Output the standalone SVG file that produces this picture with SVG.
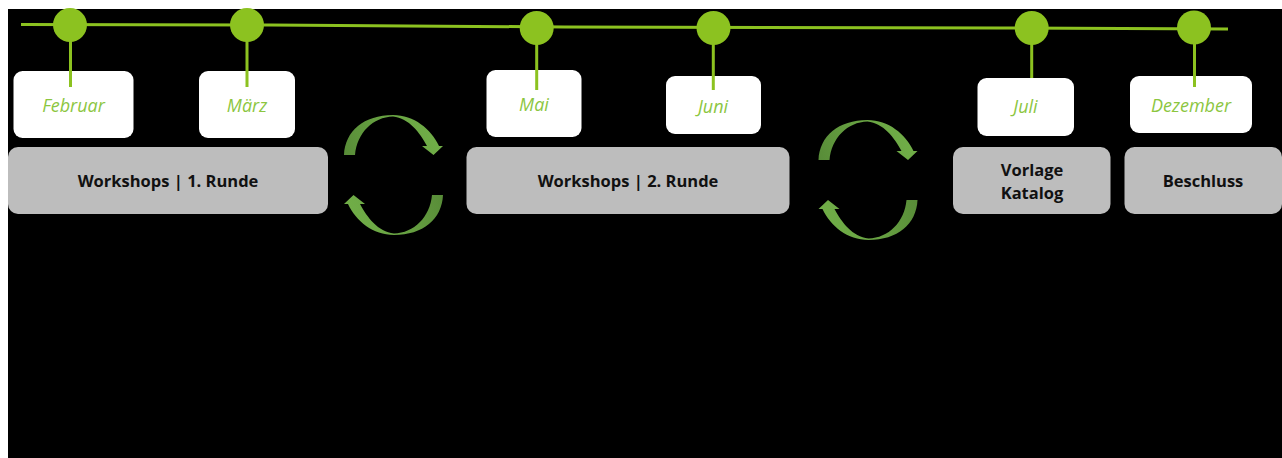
<svg xmlns="http://www.w3.org/2000/svg" xmlns:xlink="http://www.w3.org/1999/xlink" width="1282" height="458" viewBox="0 0 1282 458">
<style>
.m{fill:#fff}
.g{fill:#bdbdbd}
.d{fill:#8cc220}
.c{fill:none;stroke:#8cc220;stroke-width:3}
.ml{font:italic 400 18px "Open Sans",sans-serif;fill:#8cc63f;text-anchor:middle}
.gl{font:700 16.500px "Open Sans",sans-serif;fill:#111;text-anchor:middle}
</style>
<defs>
<linearGradient id="a1" gradientUnits="userSpaceOnUse" x1="344" y1="155" x2="434" y2="130"><stop offset="0" stop-color="#588c38"/><stop offset="0.6" stop-color="#6aa544"/><stop offset="1" stop-color="#70ad47"/></linearGradient>
<path id="arc" fill="url(#a1)" d="M344 155C345 131 364 115 393 115C414 115 431 129 439 146H443L433.500 155L422 146H427C420 133 409 118 393 116.500C373 117 357 133 355 155Z"/>
<g id="cycle">
<use href="#arc"/>
<use href="#arc" transform="rotate(180 393.500 175)"/>
</g>
</defs>
<rect x="0" y="0" width="1282" height="458" fill="#fff"/>
<rect x="8" y="9" width="1274" height="449" fill="#000"/>
<g id="boxes-m">
<g id="n-februar"><rect class="m" x="13.500" y="71" width="120" height="67" rx="9"/><text class="ml" x="73.500" y="112">Februar</text></g>
<g id="n-maerz"><rect class="m" x="199" y="71" width="96" height="67" rx="9"/><text class="ml" x="247" y="112">März</text></g>
<g id="n-mai"><rect class="m" x="486.500" y="70" width="95" height="67" rx="9"/><text class="ml" x="534" y="111">Mai</text></g>
<g id="n-juni"><rect class="m" x="666" y="76" width="95" height="58" rx="9"/><text class="ml" x="713" y="113">Juni</text></g>
<g id="n-juli"><rect class="m" x="977.500" y="78" width="96.500" height="58" rx="9"/><text class="ml" x="1025.500" y="113">Juli</text></g>
<g id="n-dezember"><rect class="m" x="1130" y="76" width="122" height="57" rx="9"/><text class="ml" x="1191" y="112">Dezember</text></g>
</g>
<g id="n-runde1"><rect class="g" x="8" y="147" width="320" height="67" rx="10"/><text class="gl" x="168" y="187">Workshops | 1. Runde</text></g>
<g id="n-runde2"><rect class="g" x="466.500" y="147" width="323" height="67" rx="10"/><text class="gl" x="628" y="187">Workshops | 2. Runde</text></g>
<g id="n-vorlage"><rect class="g" x="953" y="147" width="157.500" height="67" rx="10"/><text class="gl" x="1032" y="175.500">Vorlage</text><text class="gl" x="1032" y="199">Katalog</text></g>
<g id="n-beschluss"><rect class="g" x="1124.500" y="147" width="157.500" height="67" rx="10"/><text class="gl" x="1203" y="187">Beschluss</text></g>
<g id="connectors">
<path class="c" d="M21 24.500L270 25L565 27L1000 28L1228 29"/>
<path class="c" d="M70.500 25V87M247 25V87M536.700 28V90M713.300 28V90M1031.700 28V78M1194.500 28V87"/>
</g>
<g id="dots">
<g id="n-dot-feb"><circle class="d" cx="70" cy="25" r="17"/></g>
<g id="n-dot-mar"><circle class="d" cx="247" cy="25" r="17"/></g>
<g id="n-dot-mai"><circle class="d" cx="536.700" cy="28" r="17"/></g>
<g id="n-dot-jun"><circle class="d" cx="713.500" cy="28" r="17"/></g>
<g id="n-dot-jul"><circle class="d" cx="1031.700" cy="28" r="17"/></g>
<g id="n-dot-dez"><circle class="d" cx="1194" cy="27.500" r="17"/></g>
</g>
<g id="cycle1"><use href="#cycle"/></g>
<g id="cycle2"><use href="#cycle" transform="translate(474.500 5)"/></g>
</svg>
